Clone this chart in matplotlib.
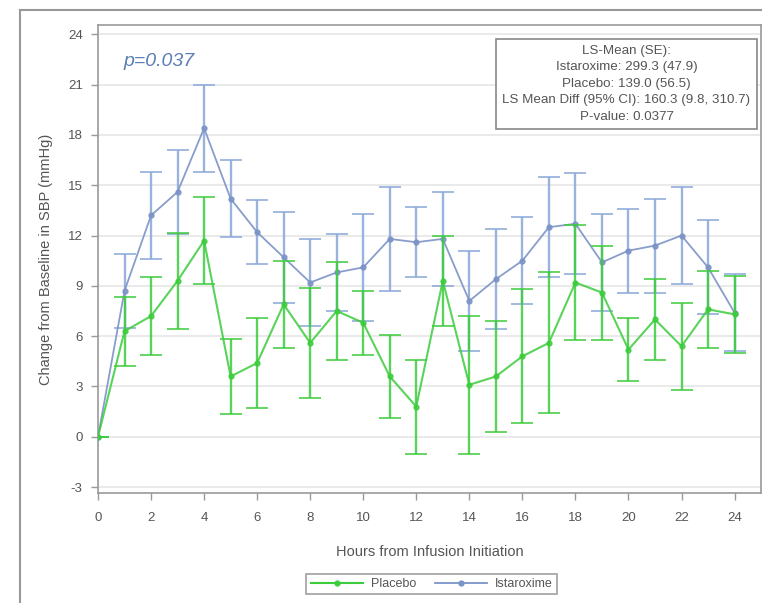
import numpy as np
import matplotlib
matplotlib.use('Agg')
import matplotlib.pyplot as plt
from matplotlib.lines import Line2D

plt.rcParams['font.family'] = ['Liberation Sans', 'DejaVu Sans']
plt.rcParams['axes.unicode_minus'] = False

hours = list(range(0, 25))

# Istaroxime LS-mean change and SE
ista_mean = [0, 8.7, 13.2, 14.6, 18.4, 14.2, 12.2, 10.7, 9.2, 9.8, 10.1, 11.8, 11.6, 11.8,
             8.1, 9.4, 10.5, 12.5, 12.7, 10.4, 11.1, 11.4, 12.0, 10.1, 7.4]
ista_err = [0, 2.2, 2.6, 2.5, 2.6, 2.3, 1.9, 2.7, 2.6, 2.3, 3.2, 3.1, 2.1, 2.8,
            3.0, 3.0, 2.6, 3.0, 3.0, 2.9, 2.5, 2.8, 2.9, 2.8, 2.3]

# Placebo LS-mean change and SE
plac_mean = [0, 6.3, 7.2, 9.3, 11.7, 3.6, 4.4, 7.9, 5.6, 7.5, 6.8, 3.6, 1.8, 9.3,
             3.1, 3.6, 4.8, 5.6, 9.2, 8.6, 5.2, 7.0, 5.4, 7.6, 7.3]
plac_err = [0, 2.05, 2.35, 2.85, 2.6, 2.25, 2.7, 2.6, 3.3, 2.9, 1.9, 2.5, 2.8, 2.7,
            4.1, 3.3, 4.0, 4.2, 3.4, 2.8, 1.9, 2.4, 2.6, 2.3, 2.3]

xticks = list(range(0, 25, 2))
yticks = [-3, 0, 3, 6, 9, 12, 15, 18, 21, 24]

stats_lines = ['LS-Mean (SE):',
               'Istaroxime: 299.3 (47.9)',
               'Placebo: 139.0 (56.5)',
               'LS Mean Diff (95% CI): 160.3 (9.8, 310.7)',
               'P-value: 0.0377']

blue = '#8fabdb'
blue_line = '#7b93c6'
green = '#3ccc3c'
grid_c = '#e6e6e6'
text_c = '#555555'

fig = plt.figure(figsize=(7.62, 6.03), dpi=100)
ax = fig.add_axes([0.1286, 0.1824, 0.8702, 0.7761])

ax.errorbar(hours, ista_mean, yerr=ista_err, color=blue_line, ecolor=blue,
            elinewidth=1.7, capsize=8, capthick=1.3, marker='o', markersize=3.5,
            linewidth=1.3, zorder=3, alpha=0.9)
ax.errorbar(hours, plac_mean, yerr=plac_err, color=green, ecolor=green,
            elinewidth=1.7, capsize=8, capthick=1.3, marker='o', markersize=3.5,
            linewidth=1.5, zorder=4, alpha=0.85)

ax.set_xlim(0, 25)
ax.set_ylim(-3.35, 24.55)
ax.set_xticks(xticks)
ax.set_yticks(yticks)
ax.yaxis.grid(True, color=grid_c, linewidth=1.2)
ax.set_axisbelow(True)
ax.tick_params(colors='#999999', labelcolor=text_c, labelsize=9.5, length=5, width=1, pad=6)
ax.tick_params(axis='x', pad=9)
for s in ax.spines.values():
    s.set_color('#999999')
    s.set_linewidth(1.2)

ax.set_xlabel('Hours from Infusion Initiation', fontsize=10.5, color=text_c, labelpad=15)
ax.set_ylabel('Change from Baseline in SBP (mmHg)', fontsize=10.5, color=text_c, labelpad=11)

ax.text(0.95, 22.4, 'p=0.037', fontsize=14, style='italic', color='#5a7db3',
        va='center', ha='left')

ax.text(0.797, 0.874, '\n'.join(stats_lines), transform=ax.transAxes,
        ha='center', va='center', fontsize=9.6, color=text_c, linespacing=1.5,
        bbox=dict(boxstyle='square,pad=0.45', facecolor='white', edgecolor='#888888',
                  linewidth=1.2))

handles = [Line2D([], [], color=green, marker='o', markersize=3.5, linewidth=1.5),
           Line2D([], [], color=blue_line, marker='o', markersize=3.5, linewidth=1.3)]
leg = fig.legend(handles, ['Placebo', 'Istaroxime'], loc='center',
                 bbox_to_anchor=(0.5665, 0.0315), ncol=2, fontsize=9, frameon=True,
                 fancybox=False, edgecolor='#888888', handlelength=4.2, columnspacing=1.5,
                 borderpad=0.35, handletextpad=0.6)
leg.get_frame().set_linewidth(1.2)
for t in leg.get_texts():
    t.set_color(text_c)

# outer frame of the original graphic
fig.add_artist(Line2D([20 / 762, 20 / 762], [0, 1 - 10 / 603], color='#999999',
                      linewidth=1.5, transform=fig.transFigure))
fig.add_artist(Line2D([20 / 762, 1], [1 - 10 / 603, 1 - 10 / 603], color='#999999',
                      linewidth=1.5, transform=fig.transFigure))

fig.savefig('out.png', dpi=100)
